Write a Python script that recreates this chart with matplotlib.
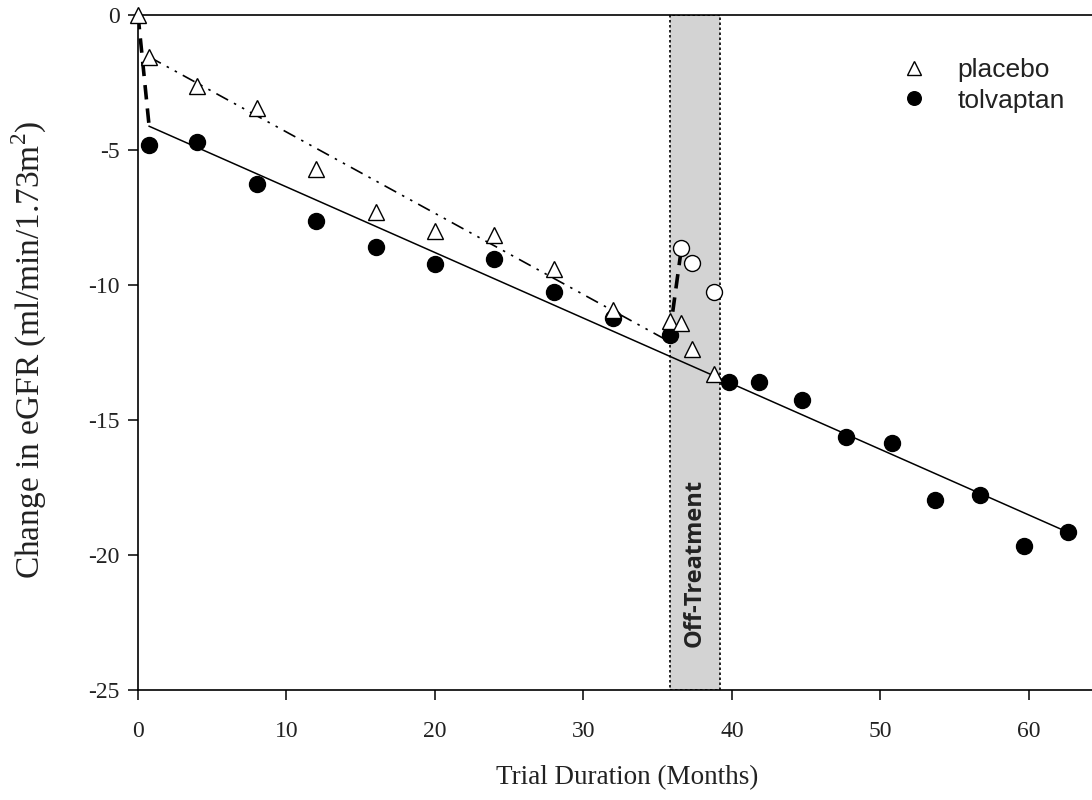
import numpy as np
import matplotlib
matplotlib.use('Agg')
import matplotlib.pyplot as plt
from matplotlib.patches import Rectangle

plt.rcParams['font.family'] = ['Liberation Serif', 'DejaVu Serif']
plt.rcParams['axes.unicode_minus'] = False
plt.rcParams['mathtext.fontset'] = 'custom'
plt.rcParams['mathtext.rm'] = 'Liberation Serif'

# placebo (open triangles)
plac_x = [0, 0.75, 4, 8, 12, 16, 20, 24, 28, 32, 35.8, 36.6, 37.3, 38.8]
plac_y = [0, -1.55, -2.63, -3.44, -5.7, -7.3, -8.0, -8.15, -9.4, -10.93, -11.33, -11.4, -12.37, -13.3]

# tolvaptan on treatment (filled circles)
tolv_x = [0.75, 4, 8, 12, 16, 20, 24, 28, 32, 35.8, 39.8, 41.8, 44.7, 47.7, 50.8, 53.7, 56.7, 59.7, 62.6]
tolv_y = [-4.81, -4.70, -6.26, -7.63, -8.59, -9.22, -9.04, -10.26, -11.22, -11.85,
          -13.6, -13.6, -14.26, -15.63, -15.85, -17.96, -17.78, -19.67, -19.15]

# tolvaptan off treatment (open circles)
off_x = [36.6, 37.3, 38.8]
off_y = [-8.63, -9.19, -10.26]

# fitted slopes
tolv_fit_x = [0.75, 62.6]
tolv_fit_y = [-4.12, -19.15]
plac_fit_x = [0.75, 35.8]
plac_fit_y = [-1.55, -12.1]

# acute drop / recovery
drop_x = [0, 0.75]
drop_y = [0, -4.12]
rec_x = [35.8, 36.6]
rec_y = [-11.85, -8.63]

off_start, off_end = 35.8, 39.2

fig = plt.figure(figsize=(10.92, 8), dpi=100)
ax = fig.add_axes([138/1092, 110/800, 1 - 138/1092, 675/800])

ax.add_patch(Rectangle((off_start, -25), off_end - off_start, 25, facecolor='#d3d3d3',
                       edgecolor='black', linestyle=(0, (1.5, 1.5)), linewidth=1.2, zorder=1))
ax.text((off_start + off_end) / 2, -20.3, 'Off-Treatment', rotation=90, ha='center', va='center',
        fontsize=17, fontweight='bold', family=['Open Sans', 'DejaVu Sans'], color='#222222', zorder=2)

ax.plot(tolv_fit_x, tolv_fit_y, color='black', lw=1.1, zorder=3)
ax.plot(plac_fit_x, plac_fit_y, color='black', lw=1.2, linestyle=(0, (8, 4, 1.5, 4, 1.5, 4)), zorder=3)
ax.plot(drop_x, drop_y, color='black', lw=2.6, linestyle=(0, (4, 2.5)), zorder=3)
ax.plot(rec_x, rec_y, color='black', lw=2.6, linestyle=(0, (4, 2.5)), zorder=3)

ax.plot(tolv_x, tolv_y, 'o', color='black', ms=11.5, ls='none', zorder=4, label='tolvaptan')
ax.plot(off_x, off_y, 'o', mfc='white', mec='black', mew=1.0, ms=11.5, ls='none', zorder=5)
ax.plot(plac_x, plac_y, '^', mfc='white', mec='black', mew=1.0, ms=11.5, ls='none', zorder=6,
        label='placebo', clip_on=False)

ax.set_xlim(0, 64.25)
ax.set_ylim(-25, 0)
ax.set_xticks(np.arange(0, 61, 10))
ax.set_yticks(np.arange(-25, 1, 5))
ax.spines['right'].set_visible(False)
for s in ['left', 'bottom', 'top']:
    ax.spines[s].set_linewidth(1.2)
ax.tick_params(direction='out', length=7, width=1.1, labelsize=17, pad=6, labelcolor='#222222')
ax.tick_params(axis='x', pad=15)

fig.text(29/1092, 1 - 350/800, 'Change in eGFR (ml/min/1.73m$^2$)', rotation=90, ha='center', va='center',
         fontsize=24, color='#222222')
fig.text(627/1092, 1 - 778/800, 'Trial Duration (Months)', ha='center', va='center', fontsize=19.5,
         color='#222222')

h, l = ax.get_legend_handles_labels()
leg = ax.legend(h[::-1], l[::-1], loc='upper left', bbox_to_anchor=(0.7998, 0.9363), frameon=False,
                prop={'family': ['Liberation Sans', 'DejaVu Sans'], 'size': 19}, markerscale=0.85,
                handlelength=1.0, handletextpad=1.15, labelspacing=0.25, numpoints=1,
                borderpad=0, borderaxespad=0)
for t in leg.get_texts():
    t.set_color('#222222')

fig.savefig('out.png', dpi=100)
